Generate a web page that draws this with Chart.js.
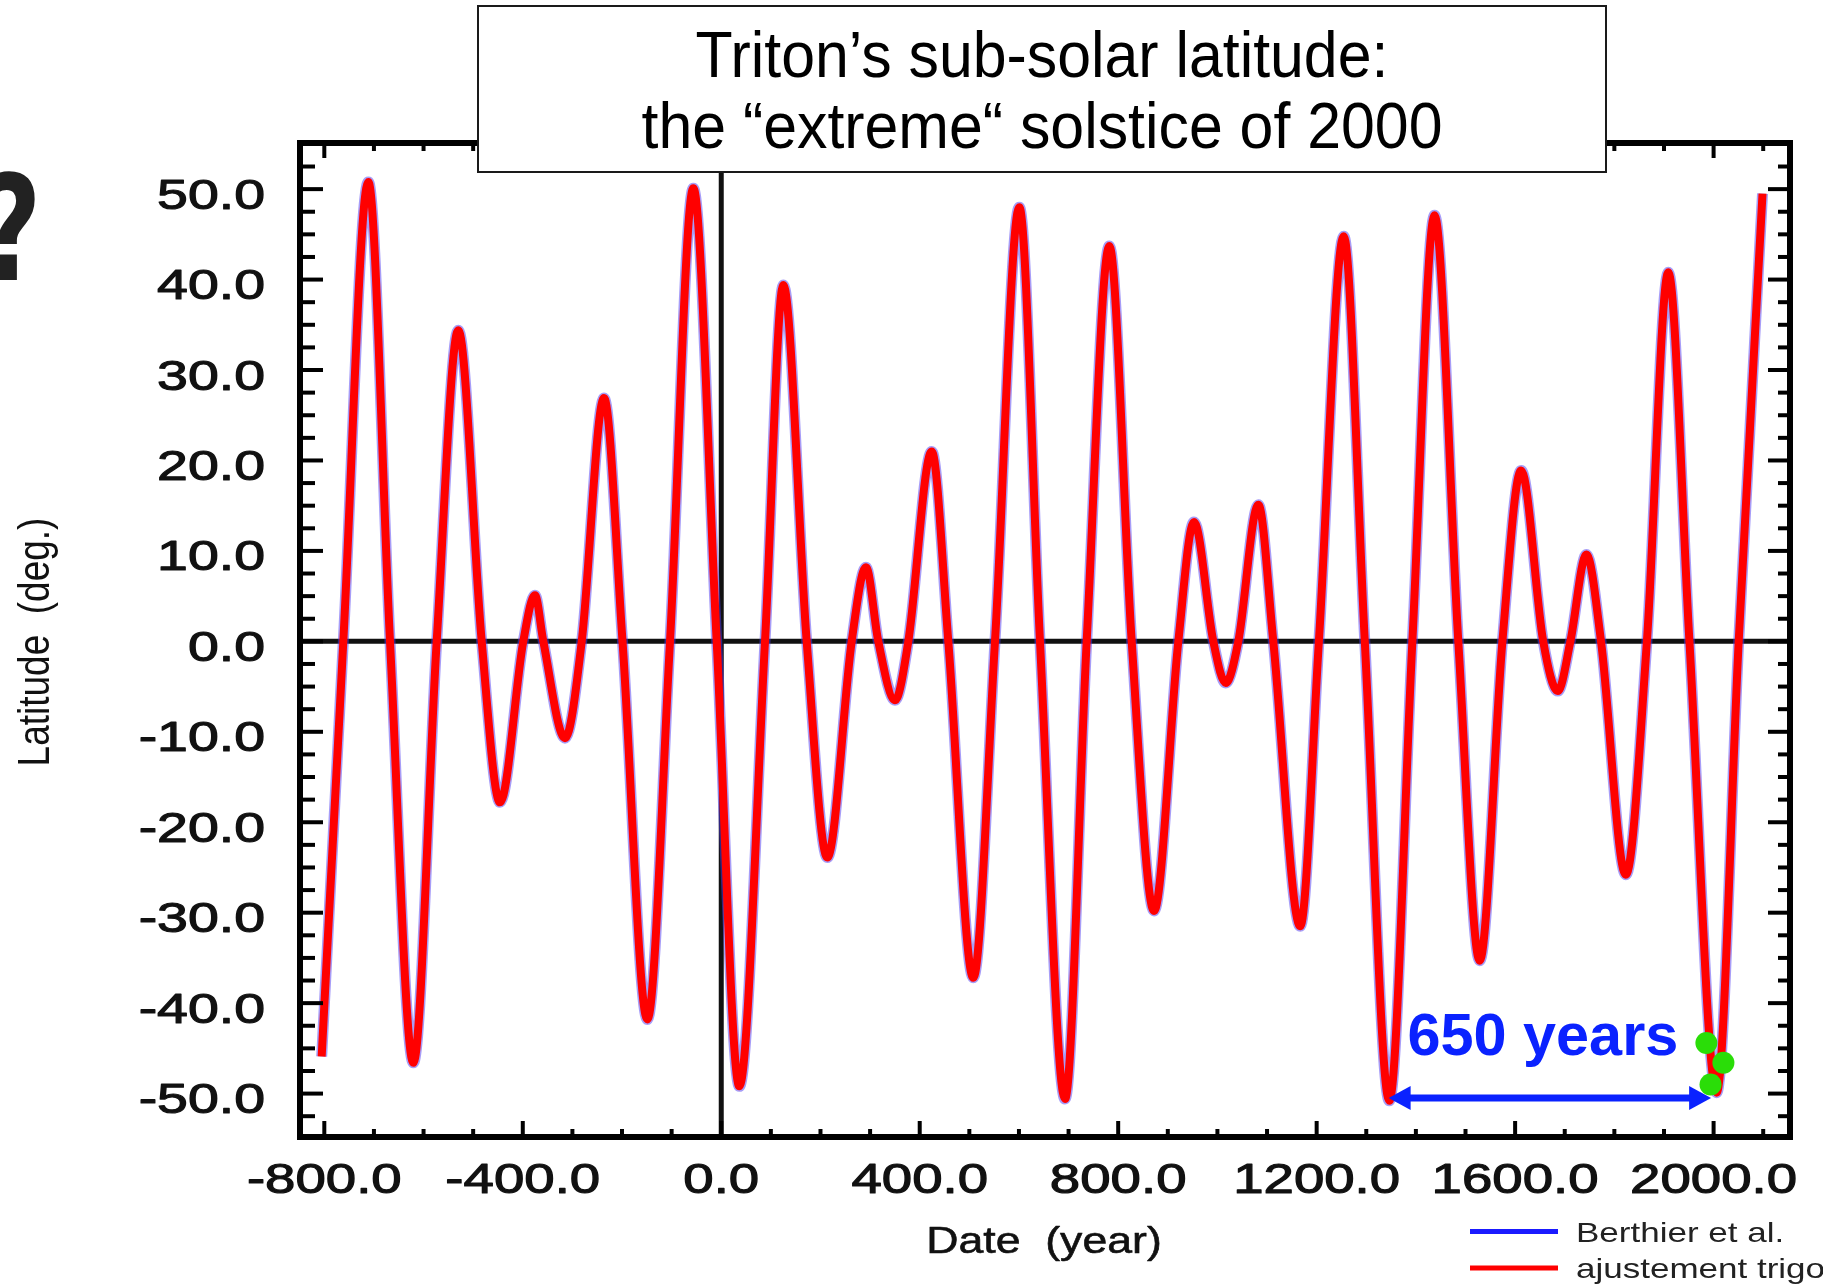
<!DOCTYPE html>
<html>
<head>
<meta charset="utf-8">
<title>Triton sub-solar latitude</title>
<script src="https://cdn.jsdelivr.net/npm/chart.js@4.4.1/dist/chart.umd.min.js"></script>
<style>
  html, body { margin: 0; padding: 0; background: #ffffff; }
  #wrap { position: relative; width: 1823px; height: 1284px; }
</style>
</head>
<body>
<div id="wrap"><canvas id="c" width="1823" height="1284"></canvas></div>
<script>
// Sub-solar latitude of Triton (deg.) versus date (year): extrema and zero crossings
const years = [
  -805.3, -761.7, -711.3, -667.6, -620.6, -573.5, -530.0, -482.8, -445.9, -399.0,
  -375.4, -358.6, -314.9, -281.2, -236.3, -199.0, -149.0, -103.3, -56.3, -9.2,
  36.4, 88.2, 125.1, 172.2, 213.7, 262.9, 291.7, 316.5, 350.2, 377.0,
  424.2, 457.6, 508.0, 551.7, 600.7, 642.4, 692.8, 736.5, 782.1, 827.2,
  872.2, 921.2, 952.8, 991.7, 1016.7, 1042.1, 1082.4, 1112.6, 1166.9, 1204.5,
  1254.5, 1297.0, 1346.4, 1392.9, 1437.5, 1485.5, 1528.6, 1574.4, 1612.1, 1656.6,
  1686.0, 1711.4, 1743.7, 1773.1, 1823.1, 1865.6, 1908.7, 1951.3, 2006.1, 2050.6,
  2098.6
];
const latitude = [
  -45.9, 0, 50.8, 0, -46.6, 0, 34.4, 0, -17.8, 0,
  5.1, 0, -10.7, 0, 26.9, 0, -41.8, 0, 50.1, 0,
  -49.2, 0, 39.4, 0, -23.9, 0, 8.2, 0, -6.5, 0,
  21.0, 0, -37.2, 0, 48.0, 0, -50.6, 0, 43.7, 0,
  -29.8, 0, 13.2, 0, -4.6, 0, 15.1, 0, -31.5, 0,
  44.8, 0, -50.8, 0, 47.1, 0, -35.3, 0, 18.9, 0,
  -5.5, 0, 9.6, 0, -25.8, 0, 40.8, 0, -49.9, 0,
  49.5
];

// observed epochs (green markers)
const obsYears = [1985.5, 2019.8, 1993.8];
const obsLat = [-44.4, -46.6, -49.0];

// axis ticks
const xTicks = [-800, -400, 0, 400, 800, 1200, 1600, 2000];
const yTicks = [50, 40, 30, 20, 10, 0, -10, -20, -30, -40, -50];

// series names for the legend
const seriesNames = ['Berthier et al.', 'ajustement trigonométrique'];

// interval between the two extreme solstices
const spanStart = 1345;
const spanYears = 650;
const spanLat = -50.5;

const titleLines = ['Triton\u2019s sub-solar latitude:', 'the \u201Cextreme\u201C solstice of 2000'];

const FONT = "'Liberation Sans', Arial, Helvetica, sans-serif";

function stretchedText(ctx, str, x, y, size, sx, align, color, weight, outline) {
  ctx.save();
  ctx.font = (weight || 'normal') + ' ' + size + 'px ' + FONT;
  ctx.fillStyle = color;
  ctx.textAlign = align;
  ctx.textBaseline = 'alphabetic';
  ctx.translate(x, y);
  ctx.scale(sx, 1);
  ctx.fillText(str, 0, 0);
  if (outline) {
    ctx.strokeStyle = color;
    ctx.lineWidth = outline;
    ctx.lineJoin = 'round';
    ctx.strokeText(str, 0, 0);
  }
  ctx.restore();
}

function seg(ctx, x1, y1, x2, y2) {
  ctx.beginPath();
  ctx.moveTo(x1, y1);
  ctx.lineTo(x2, y2);
  ctx.stroke();
}

const decor = {
  id: 'decor',
  beforeDatasetsDraw(chart) {
    const ctx = chart.ctx;
    const { left, right, top, bottom } = chart.chartArea;
    const xs = chart.scales.x, ys = chart.scales.y;
    ctx.save();
    ctx.strokeStyle = '#111111';
    ctx.lineWidth = 5;
    const y0 = ys.getPixelForValue(0);
    seg(ctx, left, y0, right, y0);
    const x0 = xs.getPixelForValue(0);
    seg(ctx, x0, top, x0, bottom);
    ctx.restore();
  },
  afterDatasetDraw(chart, args) {
    // arrow goes above the red curve, below the green markers
    if (args.index !== 1) return;
    const ctx = chart.ctx;
    const xs = chart.scales.x, ys = chart.scales.y;
    const xa = xs.getPixelForValue(spanStart);
    const xb = xs.getPixelForValue(spanStart + spanYears);
    const y = ys.getPixelForValue(spanLat);
    const headL = 22, headW = 12;
    ctx.save();
    ctx.strokeStyle = '#0a22ff';
    ctx.fillStyle = '#0a22ff';
    ctx.lineWidth = 7;
    seg(ctx, xa + headL - 2, y, xb - headL + 2, y);
    ctx.beginPath();
    ctx.moveTo(xa, y); ctx.lineTo(xa + headL, y - headW); ctx.lineTo(xa + headL, y + headW); ctx.closePath();
    ctx.fill();
    ctx.beginPath();
    ctx.moveTo(xb, y); ctx.lineTo(xb - headL, y - headW); ctx.lineTo(xb - headL, y + headW); ctx.closePath();
    ctx.fill();
    ctx.restore();
  },
  afterDatasetsDraw(chart) {
    const ctx = chart.ctx;
    const { left, right, top, bottom } = chart.chartArea;
    const xs = chart.scales.x, ys = chart.scales.y;
    ctx.save();
    ctx.strokeStyle = '#000000';
    ctx.lineWidth = 4;
    // inward ticks, bottom and top
    for (let v = -800; v <= 2100; v += 100) {
      const px = xs.getPixelForValue(v);
      const major = v % 400 === 0;
      seg(ctx, px, bottom, px, bottom - (major ? 16 : 8));
      seg(ctx, px, top, px, top + (major ? 15 : 8));
    }
    // inward ticks, left and right
    for (let k = -21; k <= 22; k++) {
      const v = k * 2.5;
      if (v < ys.min || v > ys.max) continue;
      const py = ys.getPixelForValue(v);
      const major = k % 4 === 0;
      seg(ctx, left, py, left + (major ? 23 : 15), py);
      seg(ctx, right, py, right - (major ? 22 : 12), py);
    }
    ctx.lineWidth = 6;
    ctx.strokeRect(left, top, right - left, bottom - top);
    ctx.restore();

    // span label
    const xa = xs.getPixelForValue(spanStart);
    const xb = xs.getPixelForValue(spanStart + spanYears);
    const ya = ys.getPixelForValue(spanLat);
    stretchedText(ctx, spanYears + ' years', (xa + xb) / 2 - 7, ya - 43, 60, 0.99, 'center', '#0a22ff', 'bold');
  },
  afterDraw(chart) {
    const ctx = chart.ctx;
    const { top, bottom, left } = chart.chartArea;
    const xs = chart.scales.x, ys = chart.scales.y;

    // tick labels
    yTicks.forEach(v => {
      stretchedText(ctx, v.toFixed(1), left - 35, ys.getPixelForValue(v) + 19.5, 42, 1.32, 'right', '#111111', 'normal', 1.1);
    });
    xTicks.forEach(v => {
      stretchedText(ctx, v.toFixed(1), xs.getPixelForValue(v), bottom + 56, 42, 1.30, 'center', '#111111', 'normal', 1.1);
    });

    // axis titles
    stretchedText(ctx, 'Date  (year)', 1044, 1253, 37.5, 1.19, 'center', '#111111', 'normal', 0.6);
    ctx.save();
    ctx.font = '37px ' + FONT;
    ctx.fillStyle = '#111111';
    ctx.textAlign = 'center';
    ctx.textBaseline = 'alphabetic';
    ctx.translate(49, (top + bottom) / 2 + 2);
    ctx.rotate(-Math.PI / 2);
    ctx.scale(1, 1.2);
    ctx.fillText('Latitude  (deg.)', 0, 0);
    ctx.restore();

    // legend
    ctx.save();
    ctx.lineWidth = 5;
    ctx.strokeStyle = '#1a1aff';
    seg(ctx, 1470, 1231.5, 1558, 1231.5);
    ctx.strokeStyle = '#ff0000';
    seg(ctx, 1470, 1268, 1558, 1268);
    ctx.restore();
    stretchedText(ctx, seriesNames[0], 1576, 1241.5, 28, 1.25, 'left', '#222222');
    stretchedText(ctx, seriesNames[1], 1576, 1278, 28, 1.25, 'left', '#222222');

    // title box
    ctx.save();
    ctx.fillStyle = '#ffffff';
    ctx.fillRect(478, 6, 1128, 166);
    ctx.strokeStyle = '#1a1a1a';
    ctx.lineWidth = 2;
    ctx.strokeRect(478, 6, 1128, 166);
    ctx.restore();
    stretchedText(ctx, titleLines[0], 1042, 77, 64, 0.95, 'center', '#000000');
    stretchedText(ctx, titleLines[1], 1042, 148, 64, 0.95, 'center', '#000000');

    // question mark at the left margin
    ctx.save();
    ctx.font = 'bold 146px ' + "'DejaVu Sans', sans-serif";
    ctx.fillStyle = '#222222';
    ctx.textAlign = 'center';
    ctx.textBaseline = 'alphabetic';
    ctx.translate(11, 280);
    ctx.scale(0.72, 1);
    ctx.fillText('?', 0, 0);
    ctx.restore();
  }
};

const curve = years.map((x, i) => ({ x: x, y: latitude[i] }));
const markers = obsYears.map((x, i) => ({ x: x, y: obsLat[i] }));

new Chart(document.getElementById('c').getContext('2d'), {
  type: 'line',
  data: {
    datasets: [
      {
        label: 'observations',
        data: markers,
        showLine: false,
        pointRadius: 11,
        pointBackgroundColor: '#2add08',
        pointBorderWidth: 0
      },
      {
        label: seriesNames[1],
        data: curve,
        borderColor: '#ff0000',
        borderWidth: 8,
        pointRadius: 0,
        cubicInterpolationMode: 'monotone',
        fill: false
      },
      {
        label: seriesNames[0],
        data: curve,
        borderColor: 'rgba(80,60,240,0.5)',
        borderWidth: 11,
        pointRadius: 0,
        cubicInterpolationMode: 'monotone',
        fill: false
      }
    ]
  },
  options: {
    responsive: false,
    animation: false,
    devicePixelRatio: 1,
    events: [],
    layout: { padding: { left: 300, right: 33, top: 143, bottom: 147 } },
    scales: {
      x: { type: 'linear', min: -849, max: 2154, display: false },
      y: { type: 'linear', min: -54.8, max: 55.1, display: false }
    },
    plugins: { legend: { display: false }, tooltip: { enabled: false } }
  },
  plugins: [decor]
});
</script>
</body>
</html>
